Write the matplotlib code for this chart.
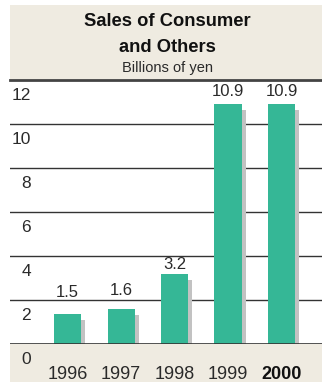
import matplotlib

matplotlib.use("Agg")
import matplotlib.pyplot as plt
from matplotlib.patches import Rectangle

years = ["1996", "1997", "1998", "1999", "2000"]
sales = [1.5, 1.6, 3.2, 10.9, 10.9]
bar_heights = [1.36, 1.59, 3.18, 10.9, 10.9]
y_ticks = [0, 2, 4, 6, 8, 10, 12]
label_pad_pt = [10, 8, 1.5, 3.5, 3.5]

GREEN = "#35B796"
SHADOW = "#C2C2C2"
BEIGE = "#EFEBE1"
LINE = "#333333"
TEXT = "#2a2a2a"

plt.rcParams["font.family"] = ["Liberation Sans", "DejaVu Sans"]

W, H = 322, 382
fig = plt.figure(figsize=(W / 100, H / 100), dpi=100)
fig.patch.set_facecolor("white")

# beige header and footer bands (figure pixels -> fractions)
fig.add_artist(Rectangle((10 / W, 1 - 80 / H), 1, 75 / H, transform=fig.transFigure,
                         facecolor=BEIGE, edgecolor="none", zorder=0))
fig.add_artist(Rectangle((10 / W, 0), 1, 38 / H, transform=fig.transFigure,
                         facecolor=BEIGE, edgecolor="none", zorder=0))

ax = fig.add_axes([10 / W, 38 / H, 312 / W, 264 / H])
ax.set_facecolor("none")
ax.set_xlim(-1.075, 4.757)
ax.set_ylim(0, 12)
for spine in ax.spines.values():
    spine.set_visible(False)

x = list(range(len(years)))
width = 0.505
ax.bar([i + 0.075 for i in x], [h - 0.27 for h in bar_heights], width,
       color=SHADOW, zorder=2)
ax.bar(x, bar_heights, width, color=GREEN, zorder=3)

for v in y_ticks[1:-1]:
    ax.axhline(v, color=LINE, linewidth=1.0, zorder=1)
ax.axhline(0, color=LINE, linewidth=1.2, zorder=4)
ax.axhline(12, color="#444444", linewidth=2.0, zorder=4, clip_on=False)

ax.set_yticks([])
for v in y_ticks:
    ax.annotate(str(v), xy=(0, v), xycoords=("axes fraction", "data"),
                xytext=(15, -11.5), textcoords="offset points",
                ha="right", va="center", fontsize=12.5, color=TEXT)

ax.set_xticks(x)
ax.set_xticklabels(years, fontsize=13, color=TEXT)
ax.get_xticklabels()[-1].set_fontweight("bold")
ax.get_xticklabels()[-1].set_color("#111111")
ax.tick_params(axis="x", length=0, pad=16)

for i, (s, h) in enumerate(zip(sales, bar_heights)):
    ax.annotate(f"{s:.1f}", xy=(i, h), xytext=(0, label_pad_pt[i]),
                textcoords="offset points", ha="center", va="bottom",
                fontsize=12, color=TEXT)

cx = 167 / W
fig.text(cx, 1 - 22 / H, "Sales of Consumer", ha="center", va="center",
         fontsize=13.2, fontweight="bold", color="#111111")
fig.text(cx, 1 - 47 / H, "and Others", ha="center", va="center",
         fontsize=13.2, fontweight="bold", color="#111111")
fig.text(cx, 1 - 68 / H, "Billions of yen", ha="center", va="center",
         fontsize=10.5, color=TEXT)

fig.savefig("out.png", dpi=100)
